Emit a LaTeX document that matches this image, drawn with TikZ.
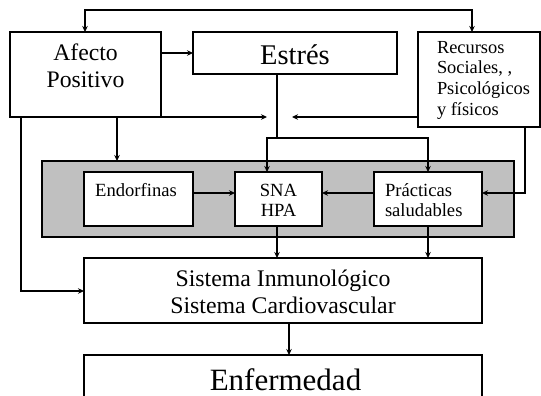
\documentclass[tikz,border=0pt]{standalone}
\usepackage{fontspec}
\setmainfont{Liberation Serif}
\usetikzlibrary{arrows.meta}
\definecolor{panelgray}{RGB}{192,192,192}
\begin{document}
\begin{tikzpicture}[x=1pt,y=-1pt,
  box/.style={draw=black,line width=2pt,fill=white,inner sep=0pt,outer sep=0pt},
  panel/.style={draw=black,line width=2pt,fill=panelgray,inner sep=0pt,outer sep=0pt},
  txt/.style={inner sep=0pt,outer sep=0pt,anchor=base,text depth=0pt},
  ltxt/.style={inner sep=0pt,outer sep=0pt,anchor=base west},
  ln/.style={line width=1.8pt},
  arr/.style={line width=1.8pt,-{Stealth[length=6pt,width=5.5pt]}},
  dbl/.style={line width=1.8pt,{Stealth[length=6pt,width=5.5pt]}-{Stealth[length=6pt,width=5.5pt]}}]
\useasboundingbox (0,0) rectangle (541,396);
\fill[white] (0,0) rectangle (541,396);
% boxes
\node[box,minimum width=151pt,minimum height=85pt] (afecto) at (85.5,74.5) {};
\node[box,minimum width=204pt,minimum height=42pt] (estres) at (295,53) {};
\node[box,minimum width=122pt,minimum height=95pt] (recursos) at (479,79.5) {};
\node[panel,minimum width=472pt,minimum height=76pt] (panel) at (278,199) {};
\node[box,minimum width=109pt,minimum height=54pt] (endorf) at (138.5,199) {};
\node[box,minimum width=87pt,minimum height=54pt] (sna) at (278.5,199) {};
\node[box,minimum width=108pt,minimum height=54pt] (prac) at (428,199) {};
\node[box,minimum width=398pt,minimum height=65pt] (sistema) at (283,290.5) {};
\node[box,minimum width=398pt,minimum height=75pt] (enferm) at (283,392.5) {};
% texts
\begin{scope}[font=\fontsize{23.7}{27}\selectfont]
\node[txt] (afectoA) at (85.5,61) {Afecto};
\node[txt] (afectoB) at (85.5,88) {Positivo};
\end{scope}
\node[txt,font=\fontsize{28.5}{32}\selectfont] (estresT) at (295,65) {Estrés};
\begin{scope}[font=\fontsize{18.4}{21}\selectfont]
\node[ltxt] (recA) at (437,54) {Recursos};
\node[ltxt] (recB) at (437,74) {Sociales, ,};
\node[ltxt] (recC) at (437,95) {Psicológicos};
\node[ltxt] (recD) at (437,115) {y físicos};
\end{scope}
\begin{scope}[font=\fontsize{18.6}{21}\selectfont]
\node[txt] (endorfT) at (136,196) {Endorfinas};
\node[txt] (snaA) at (278.5,196) {SNA};
\node[txt] (snaB) at (278.5,216) {HPA};
\node[ltxt] (pracA) at (385,196) {Prácticas};
\node[ltxt] (pracB) at (385,216) {saludables};
\end{scope}
\begin{scope}[font=\fontsize{23.8}{27}\selectfont]
\node[txt] (sisA) at (283,286) {Sistema Inmunológico};
\node[txt] (sisB) at (283,313) {Sistema Cardiovascular};
\end{scope}
\node[txt,font=\fontsize{31}{36}\selectfont] (enfT) at (285.5,390) {Enfermedad};
% helper coordinates
\coordinate (tl) at (85,10);
\coordinate (tr) at (472,10);
\coordinate (m1) at (267,117);
\coordinate (m2) at (292,117);
\coordinate (j) at (277,138);
\coordinate (js) at (267,138);
\coordinate (jp) at (428,138);
\coordinate (ad) at (117,0);
\coordinate (l) at (21,291);
\coordinate (r) at (0,193);
\coordinate (rc) at (525,193);
\coordinate (sd) at (277,0);
\coordinate (se) at (289,0);
% connectors
\draw[dbl] (afecto.north -| tl) -- (tl) -- (tr) -- (recursos.north -| tr);
\draw[arr] (afecto.east |- estres.west) -- (estres.west);
\draw[arr] (afecto.south east) -- (m1);
\draw[arr] (recursos.west |- m2) -- (m2);
\draw[ln] (estres.south -| j) -- (j);
\draw[arr] (j) -- (js) -- (sna.north -| js);
\draw[arr] (j) -- (jp) -- (prac.north -| jp);
\draw[arr] (afecto.south -| ad) -- (panel.north -| ad);
\draw[arr] (afecto.south -| l) -- (l) -- (sistema.west |- l);
\draw[arr] (endorf.east |- r) -- (sna.west |- r);
\draw[arr] (prac.west |- r) -- (sna.east |- r);
\draw[arr] (recursos.south -| rc) -- (rc) -- (prac.east |- rc);
\draw[arr] (sna.south -| sd) -- (sistema.north -| sd);
\draw[arr] (prac.south) -- (sistema.north -| prac.south);
\draw[arr] (sistema.south -| se) -- (enferm.north -| se);
\end{tikzpicture}
\end{document}
